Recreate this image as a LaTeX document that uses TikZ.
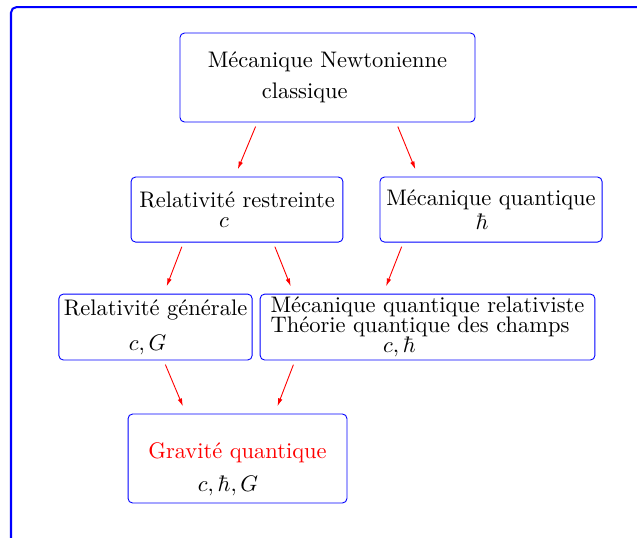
\documentclass[tikz,border=0pt]{standalone}
\usetikzlibrary{arrows.meta}
\begin{document}
\begin{tikzpicture}[
		boite/.style={draw=blue, rounded corners=2pt, inner sep=0pt},
		fleche/.style={red, -{Latex[length=3.5pt,width=2pt]}, shorten <=2pt, shorten >=3.5pt}]
		\useasboundingbox (0,0) rectangle (9.953,8.391);
		\draw[blue, line width=0.9pt, rounded corners=2.5pt] (0.172,8.281) rectangle (11,-1);

		\node[boite, minimum width=4.61cm, minimum height=1.39cm, align=left] (nw) at (5.117,7.18) {Mécanique Newtonienne\\[2pt] \hspace*{24pt}classique};
		\node[boite, minimum width=3.31cm, minimum height=1.016cm, align=center] (rr) at (3.703,5.117) {Relativité restreinte\\[-3pt] $c$\hspace*{11.6pt}};
		\node[boite, minimum width=3.47cm, minimum height=1.016cm, align=center] (mq) at (7.672,5.117) {Mécanique quantique\\[-1pt] $\hbar$\hspace*{8pt}};
		\node[boite, minimum width=3.02cm, minimum height=1.03cm, align=center] (rg) at (2.43,3.281) {Relativité générale\\[3.5pt] $c,G$\hspace*{7pt}};
		\node[boite, minimum width=5.23cm, minimum height=1.03cm, align=left] (mqr) at (6.68,3.281) {Mécanique quantique relativiste\\[-3pt] Théorie quantique des champs\\[-3pt] \hspace*{50pt}$c,\hbar$};
		\node[boite, minimum width=3.42cm, minimum height=1.39cm, align=left] (gq) at (3.711,1.227) {\rule{0pt}{16.7pt}\textcolor{red}{Gravité quantique}\\[3pt] \hspace*{22pt}$c,\hbar,G$};

		\draw[fleche] ([xshift=-31.2pt]nw.south) -- ([xshift=-1pt]rr.north);
		\draw[fleche] ([xshift=30.5pt]nw.south) -- ([xshift=-32.3pt]mq.north);
		\draw[fleche] ([xshift=-23.8pt]rr.south) -- ([xshift=3.7pt]rg.north);
		\draw[fleche] ([xshift=16.1pt]rr.south) -- ([xshift=-59.5pt]mqr.north);
		\draw[fleche] ([xshift=-39pt]mq.south) -- ([xshift=-19.7pt]mqr.north);
		\draw[fleche] ([xshift=3.6pt]rg.south) -- ([xshift=-22.9pt]gq.north);
		\draw[fleche] ([xshift=-58.9pt]mqr.south) -- ([xshift=16.5pt]gq.north);
	\end{tikzpicture}
\end{document}
